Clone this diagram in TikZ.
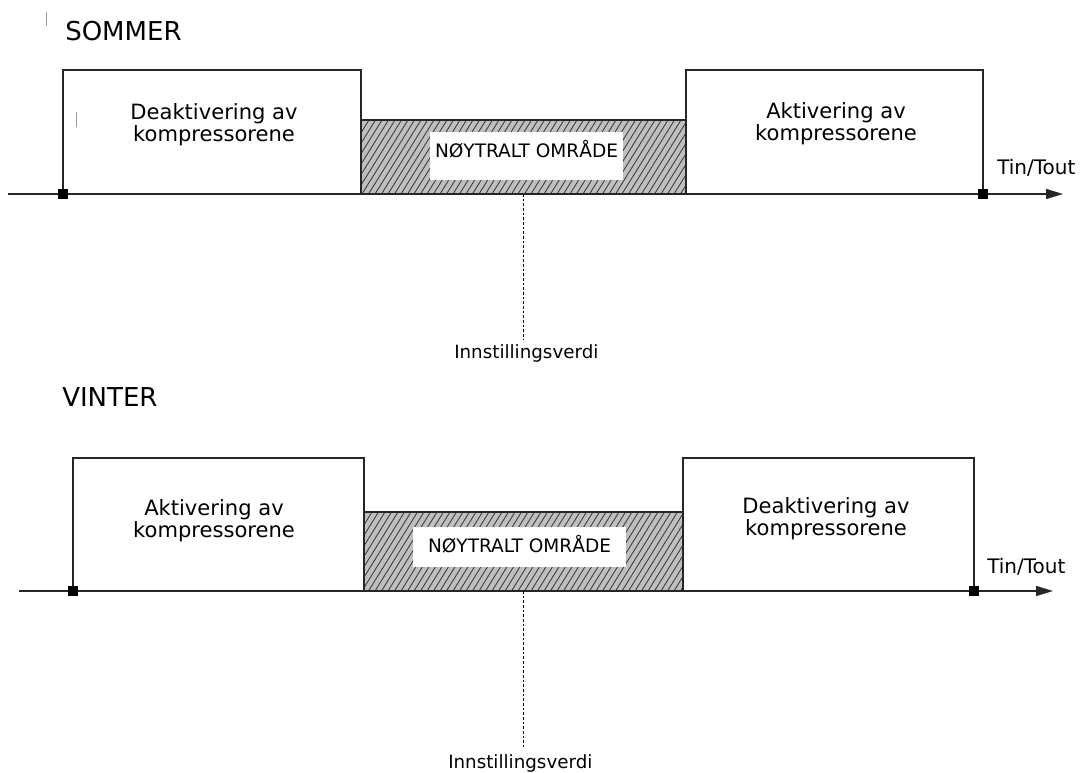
\documentclass[tikz,border=0pt]{standalone}
\usepackage{fontspec}
\setmainfont{DejaVu Sans}
\usetikzlibrary{arrows.meta}
\tikzset{
  boxline/.style = {line width=1.1pt, draw=black!85},
  axisline/.style = {line width=1pt, black!85, -{Triangle[length=12.75pt, width=7.5pt]}},
  marker/.style = {fill=black, minimum size=7.5pt, inner sep=0pt},
  hatchzone/.style = {fill=black!25},
  hatchline/.style = {line width=0.6pt, black!80},
  setline/.style = {line width=0.75pt, dash pattern=on 2pt off 1.5pt, shorten >=4pt},
  cursor/.style = {line width=0.6pt, black!40},
}
\begin{document}
\begin{tikzpicture}[x=0.75pt, y=-0.75pt]
  \useasboundingbox (0,0) rectangle (1082,773);
  \tikzset{
    title/.style = {font=\fontsize{19.5}{22}\selectfont, anchor=base west, inner sep=0pt},
    boxtext/.style = {font=\fontsize{15.8}{16.5}\selectfont, align=center, inner sep=0pt},
    neutral/.style = {fill=white, inner sep=0pt, font=\fontsize{13.9}{16}\selectfont},
    axislabel/.style = {font=\fontsize{15}{18}\selectfont, anchor=base west, inner sep=0pt},
    setlabel/.style = {font=\fontsize{13.7}{16}\selectfont, anchor=base west, inner sep=0pt},
  }
  % stray marks
  \draw[cursor] (46,12) -- (46,26);
  \draw[cursor] (76,112) -- (76,127);

  % SOMMER
  \node[title] (sTitle) at (65,41) {SOMMER};
  \fill[hatchzone] (361,120) rectangle (686,194);
  \begin{scope}
    \clip (361,120) rectangle (686,194);
    \foreach \i in {310,316.5,...,690}
      \draw[hatchline] (\i,194) -- ++(46,-74);
  \end{scope}
  \draw[boxline] (361,120) rectangle (686,194);
  \draw[boxline] (63,194) rectangle (361,70);
  \draw[boxline] (686,194) rectangle (983,70);
  \node[boxtext] (sLeft) at (214,125) {Deaktivering av\\kompressorene};
  \node[boxtext] (sRight) at (836,124) {Aktivering av\\kompressorene};
  \node[neutral, minimum width=144.75pt, text height=19.5pt, text depth=16.5pt] (sNeutral) at (526.5,156) {NØYTRALT OMRÅDE};
  \coordinate (sStart) at (8,194);
  \coordinate (sEnd) at (1063,194);
  \draw[axisline] (sStart) -- (sEnd);
  \node[axislabel] (sAxis) at (997,175) {Tin/Tout};
  \node[marker] (sLow) at (63,194) {};
  \node[marker] (sHigh) at (983,194) {};
  \coordinate (sMid) at (523,194);
  \node[setlabel] (sSet) at (454,359) {Innstillingsverdi};
  \draw[setline] (sMid) -- (sMid |- sSet.north);

  % VINTER
  \node[title] (vTitle) at (62,407) {VINTER};
  \fill[hatchzone] (364,512) rectangle (683,591);
  \begin{scope}
    \clip (364,512) rectangle (683,591);
    \foreach \i in {310,316.5,...,690}
      \draw[hatchline] (\i,591) -- ++(49,-79);
  \end{scope}
  \draw[boxline] (364,512) rectangle (683,591);
  \draw[boxline] (73,591) rectangle (364,458);
  \draw[boxline] (683,591) rectangle (974,458);
  \node[boxtext] (vLeft) at (214,521) {Aktivering av\\kompressorene};
  \node[boxtext] (vRight) at (826,519) {Deaktivering av\\kompressorene};
  \node[neutral, minimum width=159.75pt, text height=18.75pt, text depth=11.25pt] (vNeutral) at (519.5,547) {NØYTRALT OMRÅDE};
  \coordinate (vStart) at (19,591);
  \coordinate (vEnd) at (1053,591);
  \draw[axisline] (vStart) -- (vEnd);
  \node[axislabel] (vAxis) at (987,573) {Tin/Tout};
  \node[marker] (vLow) at (73,591) {};
  \node[marker] (vHigh) at (974,591) {};
  \coordinate (vMid) at (523,591);
  \node[setlabel] (vSet) at (448,768) {Innstillingsverdi};
  \draw[setline, shorten >=5pt] (vMid) -- (vMid |- vSet.north);
\end{tikzpicture}
\end{document}
